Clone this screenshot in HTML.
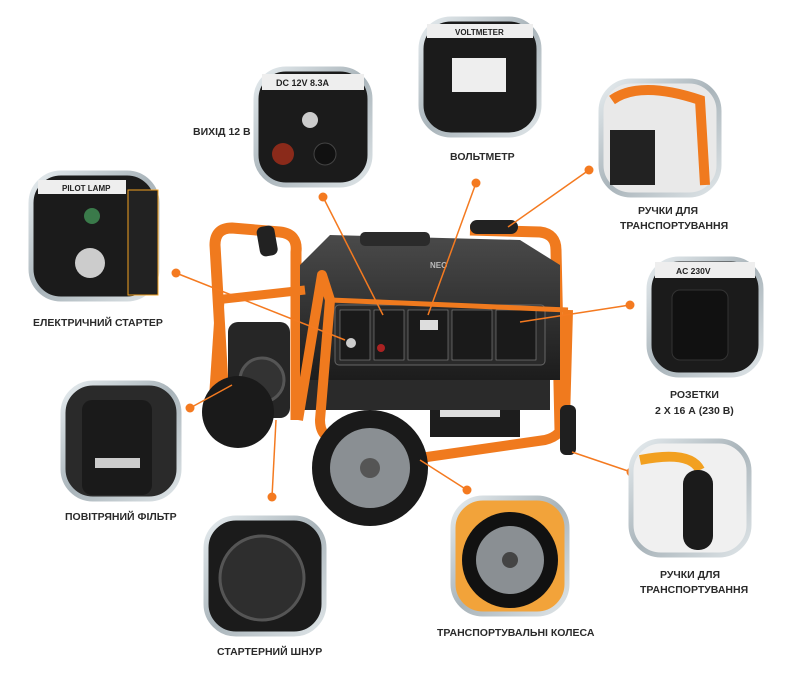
<!DOCTYPE html>
<html><head><meta charset="utf-8"><style>
html,body{margin:0;padding:0;background:#fff;}
svg{display:block}
text{font-family:"Liberation Sans",sans-serif;font-weight:bold;font-size:10.5px;fill:#2a2a2a}
</style></head><body>
<svg width="798" height="689" viewBox="0 0 798 689" xmlns="http://www.w3.org/2000/svg">
<defs>
<linearGradient id="ring" x1="0" y1="0" x2="1" y2="1"><stop offset="0" stop-color="#e6ecef"/><stop offset="0.5" stop-color="#a9b4ba"/><stop offset="1" stop-color="#dfe5e8"/></linearGradient>
<linearGradient id="body" x1="0" y1="0" x2="0" y2="1"><stop offset="0" stop-color="#4a4a4a"/><stop offset="1" stop-color="#1c1c1c"/></linearGradient>
</defs>

<!-- generator -->
<g>
 <!-- back frame -->
 <path d="M225,420 L215,245 Q215,228 232,228 L280,232 Q298,234 296,252 L296,420" fill="none" stroke="#f07a1e" stroke-width="11" stroke-linejoin="round"/>
 <path d="M470,230 L540,232 Q556,234 556,250 L560,430" fill="none" stroke="#f07a1e" stroke-width="11"/>
 <rect x="470" y="220" width="48" height="14" rx="7" fill="#222"/>
 <rect x="258" y="226" width="18" height="30" rx="6" fill="#222" transform="rotate(-10 267 240)"/>
 <!-- engine body -->
 <path d="M300,265 L330,235 L520,240 L560,265 L560,380 L300,380 Z" fill="url(#body)"/>
 <rect x="360" y="232" width="70" height="14" rx="5" fill="#2b2b2b"/>
 <text x="430" y="268" style="fill:#bbb;font-size:8px">NEO</text>
 <!-- panel -->
 <rect x="335" y="305" width="210" height="60" rx="4" fill="#2a2a2a" stroke="#666"/>
 <rect x="340" y="310" width="30" height="50" fill="#1a1a1a" stroke="#888" stroke-width="0.6"/>
 <rect x="374" y="310" width="30" height="50" fill="#1a1a1a" stroke="#888" stroke-width="0.6"/>
 <rect x="408" y="310" width="40" height="50" fill="#1a1a1a" stroke="#888" stroke-width="0.6"/>
 <rect x="452" y="310" width="40" height="50" fill="#1a1a1a" stroke="#888" stroke-width="0.6"/>
 <rect x="496" y="310" width="40" height="50" fill="#1a1a1a" stroke="#888" stroke-width="0.6"/>
 <circle cx="351" cy="343" r="5" fill="#ccc"/>
 <circle cx="381" cy="348" r="4" fill="#a22"/>
 <rect x="420" y="320" width="18" height="10" fill="#ddd"/>
 <!-- engine left -->
 <rect x="228" y="322" width="62" height="96" rx="10" fill="#262626"/>
 <circle cx="262" cy="380" r="22" fill="#333" stroke="#555" stroke-width="3"/>
 <!-- battery -->
 <rect x="430" y="395" width="90" height="42" fill="#1d1d1d"/>
 <rect x="440" y="405" width="60" height="12" fill="#ddd"/>
 <!-- lower body -->
 <rect x="300" y="380" width="250" height="30" fill="#2a2a2a"/>
 <!-- front frame -->
 <path d="M220,300 L212,420" fill="none" stroke="#f07a1e" stroke-width="9"/>
 <path d="M298,420 L322,275 L330,300 L320,420 Q320,440 340,440 L420,458 L545,440 Q562,436 565,420 L568,310" fill="none" stroke="#f07a1e" stroke-width="10" stroke-linejoin="round"/>
 <path d="M215,300 L305,290" fill="none" stroke="#f07a1e" stroke-width="9"/>
 <path d="M330,300 L568,310" fill="none" stroke="#f07a1e" stroke-width="5"/>
 <rect x="560" y="405" width="16" height="50" rx="6" fill="#1f1f1f"/>
 <!-- wheels -->
 <circle cx="238" cy="412" r="36" fill="#1a1a1a"/>
 <circle cx="370" cy="468" r="58" fill="#1a1a1a"/>
 <circle cx="370" cy="468" r="40" fill="#8a8f93"/>
 <circle cx="370" cy="468" r="10" fill="#555"/>
</g>

<!-- connectors -->
<g stroke="#f47a20" stroke-width="1.5" fill="none">
 <line x1="323" y1="197" x2="383" y2="315"/>
 <line x1="476" y1="183" x2="428" y2="315"/>
 <line x1="589" y1="170" x2="508" y2="227"/>
 <line x1="630" y1="305" x2="520" y2="322"/>
 <line x1="176" y1="273" x2="345" y2="340"/>
 <line x1="190" y1="408" x2="232" y2="385"/>
 <line x1="272" y1="497" x2="276" y2="420"/>
 <line x1="467" y1="490" x2="420" y2="460"/>
 <line x1="631" y1="472" x2="572" y2="452"/>
</g>
<g fill="#f47a20">
 <circle cx="323" cy="197" r="4.5"/><circle cx="476" cy="183" r="4.5"/><circle cx="589" cy="170" r="4.5"/>
 <circle cx="630" cy="305" r="4.5"/><circle cx="176" cy="273" r="4.5"/><circle cx="190" cy="408" r="4.5"/>
 <circle cx="272" cy="497" r="4.5"/><circle cx="467" cy="490" r="4.5"/><circle cx="631" cy="472" r="4.5"/>
</g>

<!-- insets -->
<g stroke="url(#ring)" stroke-width="5">
 <rect x="256" y="69" width="114" height="116" rx="30" fill="#1b1b1b"/>
 <rect x="421" y="19" width="118" height="116" rx="30" fill="#1b1b1b"/>
 <rect x="601" y="81" width="118" height="114" rx="30" fill="#e9e9e9"/>
 <rect x="649" y="259" width="112" height="116" rx="30" fill="#1b1b1b"/>
 <rect x="631" y="441" width="118" height="114" rx="30" fill="#f0f0f0"/>
 <rect x="453" y="498" width="114" height="116" rx="30" fill="#f2a33a"/>
 <rect x="206" y="518" width="118" height="116" rx="30" fill="#1b1b1b"/>
 <rect x="63" y="383" width="116" height="116" rx="30" fill="#2a2a2a"/>
 <rect x="31" y="173" width="126" height="126" rx="30" fill="#1b1b1b"/>
</g>
<!-- inset details -->
<rect x="262" y="74" width="102" height="16" fill="#eee"/><text x="276" y="86" style="font-size:9px;fill:#222">DC 12V 8.3A</text>
<circle cx="283" cy="154" r="11" fill="#8a2a1a"/><circle cx="325" cy="154" r="11" fill="#111" stroke="#444"/>
<circle cx="310" cy="120" r="8" fill="#ccc"/>
<rect x="427" y="24" width="106" height="14" fill="#eee"/><text x="455" y="35" style="font-size:8px;fill:#222">VOLTMETER</text>
<rect x="452" y="58" width="54" height="34" fill="#eee"/>
<path d="M612,100 Q640,80 700,100 L705,185" fill="none" stroke="#f07a1e" stroke-width="10"/>
<rect x="610" y="130" width="45" height="55" fill="#222"/>
<rect x="655" y="262" width="100" height="16" fill="#eee"/><text x="676" y="274" style="font-size:8.5px;fill:#222">AC 230V</text>
<rect x="672" y="290" width="56" height="70" rx="8" fill="#111" stroke="#333"/>
<path d="M640,460 Q690,450 700,470" fill="none" stroke="#f2a020" stroke-width="10"/>
<rect x="683" y="470" width="30" height="80" rx="14" fill="#1b1b1b"/>
<circle cx="510" cy="560" r="48" fill="#111"/><circle cx="510" cy="560" r="34" fill="#8a8f93"/><circle cx="510" cy="560" r="8" fill="#444"/>
<circle cx="262" cy="578" r="42" fill="#2e2e2e" stroke="#555" stroke-width="3"/>
<rect x="82" y="400" width="70" height="95" rx="10" fill="#1a1a1a"/><rect x="95" y="458" width="45" height="10" fill="#ccc"/>
<rect x="38" y="180" width="88" height="14" fill="#eee"/><text x="62" y="191" style="font-size:8px;fill:#222">PILOT LAMP</text>
<circle cx="92" cy="216" r="8" fill="#3a7a4a"/><circle cx="90" cy="263" r="15" fill="#ccc"/>
<rect x="128" y="190" width="30" height="105" fill="#222" stroke="#f2a020" stroke-width="1"/>

<!-- labels -->
<text x="193" y="135">ВИХІД 12 В</text>
<text x="450" y="160">ВОЛЬТМЕТР</text>
<text x="638" y="214">РУЧКИ ДЛЯ</text>
<text x="620" y="229">ТРАНСПОРТУВАННЯ</text>
<text x="33" y="326">ЕЛЕКТРИЧНИЙ СТАРТЕР</text>
<text x="670" y="398">РОЗЕТКИ</text>
<text x="655" y="414">2 Х 16 А (230 В)</text>
<text x="65" y="520">ПОВІТРЯНИЙ ФІЛЬТР</text>
<text x="660" y="578">РУЧКИ ДЛЯ</text>
<text x="640" y="593">ТРАНСПОРТУВАННЯ</text>
<text x="437" y="636">ТРАНСПОРТУВАЛЬНІ КОЛЕСА</text>
<text x="217" y="655">СТАРТЕРНИЙ ШНУР</text>
</svg>
</body></html>
